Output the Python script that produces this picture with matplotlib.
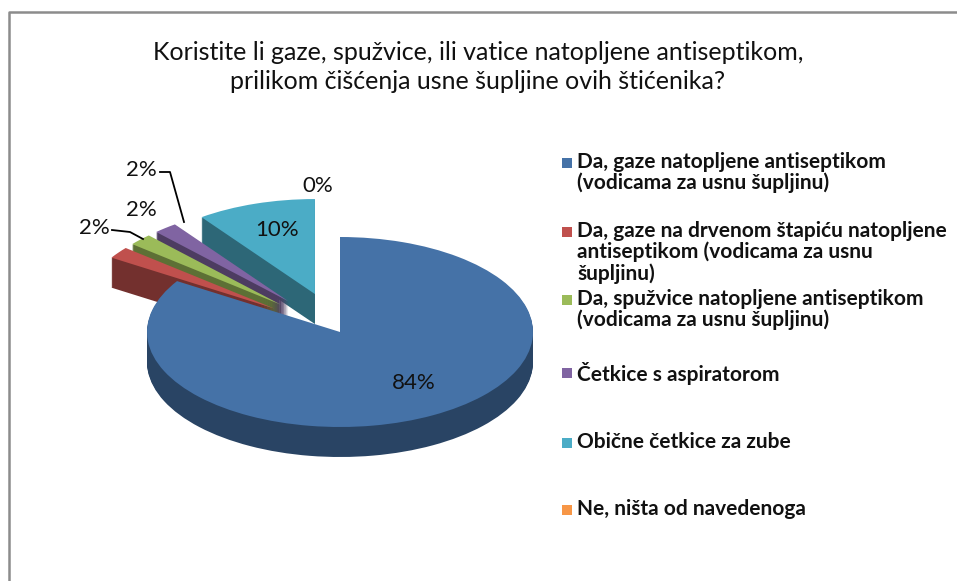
import numpy as np
import matplotlib.pyplot as plt
from matplotlib.colors import to_rgb
from matplotlib.patches import Rectangle

plt.rcParams['font.family'] = ['Lato', 'DejaVu Sans']

title = ("Koristite li gaze, spužvice, ili vatice natopljene antiseptikom,\n"
         "prilikom čišćenja usne šupljine ovih štićenika?")
categories = [
    "Da, gaze natopljene antiseptikom\n(vodicama za usnu šupljinu)",
    "Da, gaze na drvenom štapiću natopljene\nantiseptikom (vodicama za usnu\nšupljinu)",
    "Da, spužvice natopljene antiseptikom\n(vodicama za usnu šupljinu)",
    "Četkice s aspiratorom",
    "Obične četkice za zube",
    "Ne, ništa od navedenoga",
]
values = [84, 2, 2, 2, 10, 0]
colors = ['#4572A7', '#C0504D', '#9BBB59', '#8064A2', '#4BACC6', '#F79646']
explode = [0, 0.42, 0.42, 0.42, 0.42, 0.42]

W, H = 957, 581
fig = plt.figure(figsize=(W / 100, H / 100), dpi=100)


def fx(x):
    return x / W


def fy(y):
    return 1 - y / H


# chart frame (only top and left edges are inside the picture)
fig.add_artist(plt.Line2D([fx(9), fx(9), fx(957)], [fy(581), fy(12), fy(12)],
                          color='#8C8C8C', linewidth=1.8))

# pie centre and radii in pixels
cx, cy, rx, ry, depth = 340, 332, 193, 95, 30

ax = fig.add_axes([0, 0, 1, 1])
ax.axis('off')


def darker(c, f):
    r, g, b = to_rgb(c)
    return (r * f, g * f, b * f)


# side walls: stack of darker pies shifted downwards
d = depth / ry
n_layers = 30
side_cols = [darker(c, 0.6) for c in colors]
for k in range(n_layers, 0, -1):
    off = d * k / n_layers
    ax.pie(values, colors=side_cols, startangle=90, counterclock=False,
           explode=explode, center=(0, -off),
           wedgeprops=dict(linewidth=0))

# top faces
ax.pie(values, colors=colors, startangle=90, counterclock=False,
       explode=explode, center=(0, 0), wedgeprops=dict(linewidth=0))

ax.set_aspect('auto')
ax.set_xlim((0 - cx) / rx, (W - cx) / rx)
ax.set_ylim((cy - H) / ry, cy / ry)

# data labels
lab = dict(fontsize=16, color='#111111', ha='center', va='center')
fig.text(fx(414), fy(383), f"{values[0]}%", **lab)
fig.text(fx(277), fy(230), f"{values[4]}%", **lab)
fig.text(fx(318), fy(186), f"{values[5]}%", **lab)
fig.text(fx(94), fy(228), f"{values[1]}%", **lab)
fig.text(fx(141), fy(210), f"{values[2]}%", **lab)
fig.text(fx(141), fy(170), f"{values[3]}%", **lab)

# leader lines
fig.add_artist(plt.Line2D([fx(112), fx(130), fx(143)], [fy(230), fy(232), fy(239)],
                          color='black', linewidth=1.3))
fig.add_artist(plt.Line2D([fx(160), fx(170), fx(184)], [fy(172), fy(172), fy(222)],
                          color='black', linewidth=1.3))

# title
fig.text(fx(478), fy(67), title, ha='center', va='center', fontsize=18,
         linespacing=1.3, color='#111111')

# legend
legend_y = [163, 232, 300, 373, 443, 510]
for lbl, col, y in zip(categories, colors, legend_y):
    fig.patches.append(Rectangle((fx(562), fy(y + 5)), fx(10), 10 / H,
                                 transform=fig.transFigure, facecolor=col,
                                 edgecolor='none'))
    fig.text(fx(577), fy(y - 11), lbl, ha='left', va='top', fontsize=15,
             fontweight='bold', color='#111111', linespacing=1.05)

fig.savefig('out.png', dpi=100)
